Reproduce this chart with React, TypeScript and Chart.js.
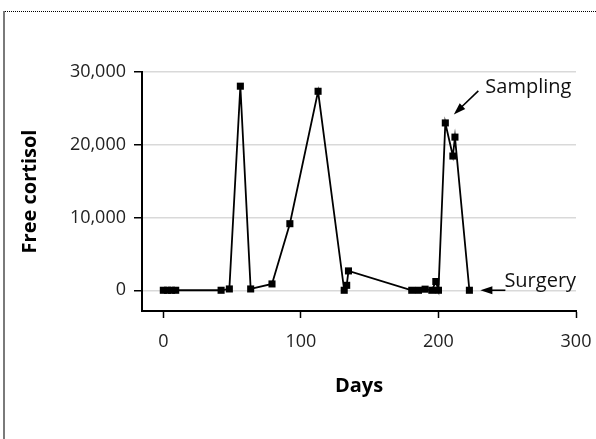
import React, { useEffect, useRef } from 'react';
import { Chart, registerables } from 'chart.js';

Chart.register(...registerables);

// ---- data ----
const days = [0, 3, 6, 9, 42, 48, 56, 63.5, 79, 92, 112.5, 131.5, 133.3, 134.6, 180.6, 185.5, 190.3, 195.2, 198.1, 200, 205, 210.5, 212, 222.5];
const freeCortisol = [0, 0, 0, 0, 0, 180, 28050, 180, 870, 9150, 27350, 0, 680, 2660, 0, 0, 150, 0, 1200, 0, 23000, 18450, 21050, 0];
const xTickValues = [0, 100, 200, 300];
const yTickValues = [0, 10000, 20000, 30000];
const samplingDay = 205;
const surgeryDay = 222.5;
const xTitle = 'Days';
const yTitle = 'Free cortisol';

const FONT = "'Open Sans', sans-serif";

function drawArrow(ctx: CanvasRenderingContext2D, x1: number, y1: number, x2: number, y2: number, head = 12, width = 8) {
  const a = Math.atan2(y2 - y1, x2 - x1);
  const c = Math.cos(a), s = Math.sin(a);
  ctx.beginPath();
  ctx.moveTo(x1, y1);
  ctx.lineTo(x2 - head * 0.8 * c, y2 - head * 0.8 * s);
  ctx.stroke();
  ctx.beginPath();
  ctx.moveTo(x2, y2);
  ctx.lineTo(x2 - head * c + (width / 2) * s, y2 - head * s - (width / 2) * c);
  ctx.lineTo(x2 - head * c - (width / 2) * s, y2 - head * s + (width / 2) * c);
  ctx.closePath();
  ctx.fill();
}

const annotationPlugin = {
  id: 'arrowsAnnotations',
  afterDatasetsDraw(chart: any) {
    const ctx: CanvasRenderingContext2D = chart.ctx;
    const xs = chart.scales.x, ys = chart.scales.y;
    const si = days.indexOf(samplingDay);
    const ui = days.indexOf(surgeryDay);
    const sx = xs.getPixelForValue(days[si]);
    const sy = ys.getPixelForValue(freeCortisol[si]);
    const ux = xs.getPixelForValue(days[ui]);
    const uy = ys.getPixelForValue(freeCortisol[ui]);
    ctx.save();
    ctx.strokeStyle = '#000';
    ctx.fillStyle = '#000';
    ctx.lineWidth = 1.6;
    drawArrow(ctx, sx + 33, sy - 32, sx + 8.5, sy - 8.5);
    drawArrow(ctx, ux + 36, uy, ux + 11, uy);
    ctx.font = `20px ${FONT}`;
    ctx.textBaseline = 'alphabetic';
    ctx.textAlign = 'left';
    ctx.fillStyle = '#111';
    ctx.fillText('Sampling', sx + 40, sy - 30);
    ctx.fillText('Surgery', ux + 35, uy - 3);
    ctx.restore();
  },
};

function ChartView() {
  const ref = useRef<HTMLCanvasElement>(null);
  useEffect(() => {
    if (!ref.current) return;
    const chart = new Chart(ref.current, {
      type: 'line',
      data: {
        datasets: [
          {
            data: days.map((d, i) => ({ x: d, y: freeCortisol[i] })),
            borderColor: '#000',
            borderWidth: 1.8,
            backgroundColor: '#000',
            pointStyle: 'rect',
            pointRadius: 5,
            pointBorderWidth: 0,
            pointBackgroundColor: '#000',
            tension: 0,
          },
        ],
      },
      options: {
        responsive: false,
        animation: false,
        devicePixelRatio: 1,
        layout: { padding: { left: 10, top: 72, right: 20, bottom: 30 } },
        plugins: { legend: { display: false }, tooltip: { enabled: false } },
        scales: {
          x: {
            type: 'linear',
            min: -15.5,
            max: 300,
            afterBuildTicks: (s: any) => {
              s.ticks = xTickValues.map((v) => ({ value: v }));
            },
            afterFit: (s: any) => {
              s.height = 98;
              s.paddingRight = 0;
              s.paddingLeft = 0;
            },
            grid: { drawOnChartArea: false, tickLength: 7, tickColor: '#000', tickWidth: 1.5 },
            border: { color: '#000', width: 2 },
            ticks: { color: '#222', font: { family: FONT, size: 18 }, padding: 13, maxRotation: 0 },
            title: { display: true, text: xTitle, color: '#000', font: { family: FONT, size: 20, weight: 'bold' }, padding: { top: 0, bottom: 11 } },
          },
          y: {
            type: 'linear',
            min: -2850,
            max: 30000,
            afterBuildTicks: (s: any) => {
              s.ticks = yTickValues.map((v) => ({ value: v }));
            },
            afterFit: (s: any) => {
              s.width = 132;
            },
            grid: { color: '#d9d9d9', lineWidth: 1.5, tickLength: 8, tickColor: '#000', tickWidth: 1.5 },
            border: { color: '#000', width: 2 },
            ticks: {
              color: '#222',
              font: { family: FONT, size: 18 },
              padding: 8,
              callback: (v: any) => Number(v).toLocaleString('en-US'),
            },
            title: { display: true, text: yTitle, color: '#000', font: { family: FONT, size: 20, weight: 'bold' }, padding: { top: 8, bottom: 0 } },
          },
        },
      },
      plugins: [annotationPlugin],
    } as any);
    return () => chart.destroy();
  }, []);
  return <canvas ref={ref} width={596} height={439} style={{ display: 'block', width: 596, height: 439 }} />;
}

export default function App() {
  return (
    <div style={{ position: 'fixed', left: 0, top: 0, width: 596, height: 439, background: '#fff', overflow: 'hidden' }}>
      <ChartView />
      <div style={{ position: 'absolute', left: 3, top: 11, width: 2, height: 428, background: '#7a7a7a' }} />
      <div style={{ position: 'absolute', left: 5, top: 11, right: 0, height: 0, borderTop: '1px dotted #000' }} />
    </div>
  );
}
